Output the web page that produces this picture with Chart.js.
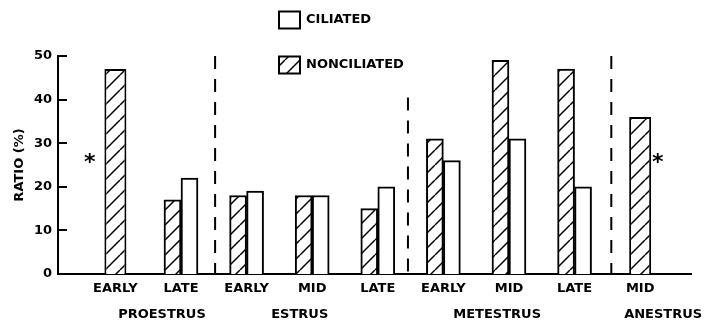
<!DOCTYPE html>
<html>
<head>
<meta charset="utf-8">
<script src="https://cdn.jsdelivr.net/npm/chart.js@4/dist/chart.umd.min.js"></script>
<style>
  html, body { margin: 0; padding: 0; background: #fff; }
  #wrap { width: 704px; height: 324px; }
</style>
</head>
<body>
<div id="wrap"><canvas id="c" width="704" height="324"></canvas></div>
<script>
// Stage labels under each bar group (ordered through the cycle)
const stageLabels = ['EARLY', 'LATE', 'EARLY', 'MID', 'LATE', 'EARLY', 'MID', 'LATE', 'MID'];
// Ratio (%) of ciliated and nonciliated cells; null = no ciliated value
const ciliated    = [null, 22, 19, 18, 20, 26, 31, 20, null];
const nonciliated = [47,   17, 18, 18, 15, 31, 49, 47, 36];
// Phases of the cycle, written under the stage labels
const phaseNames  = ['PROESTRUS', 'ESTRUS', 'METESTRUS', 'ANESTRUS'];
const seriesNames = ['CILIATED', 'NONCILIATED'];
const yTickValues = [0, 10, 20, 30, 40, 50];

// Layout (in axis units)
const phaseAnchors   = [0.71, 2.81, 5.82, 8.35];
const dividerAt      = [1.52, 4.46, 7.56];
const dividerTop     = [50, 40.5, 50];
const starOffsets    = { 0: -0.39, 8: 0.27 };
const starLevel      = 26.6;

const FONT = "'DejaVu Sans', sans-serif";
const canvas = document.getElementById('c');
const ctx = canvas.getContext('2d');

function makeHatch() {
  const s = 15;
  const c = document.createElement('canvas');
  c.width = s; c.height = s;
  const g = c.getContext('2d');
  g.fillStyle = '#fff';
  g.fillRect(0, 0, s, s);
  g.strokeStyle = '#000';
  g.lineWidth = 1.5;
  g.beginPath();
  for (const dx of [-s, 0, s]) { g.moveTo(dx, s); g.lineTo(dx + s, 0); }
  g.stroke();
  return ctx.createPattern(c, 'repeat');
}
const hatch = makeHatch();

// Groups with both values are paired; the others get one centred bar
const pairedNon = nonciliated.map((v, i) => ciliated[i] == null ? null : v);
const singleNon = nonciliated.map((v, i) => ciliated[i] == null ? v : null);

const decorations = {
  id: 'decorations',
  afterDatasetsDraw(chart) {
    const { ctx, scales: { x, y } } = chart;
    ctx.save();
    // inward y ticks
    ctx.strokeStyle = '#000';
    ctx.lineWidth = 2;
    ctx.setLineDash([]);
    y.ticks.forEach(t => {
      const py = Math.round(y.getPixelForValue(t.value)) + 0.0;
      ctx.beginPath();
      ctx.moveTo(x.left, py);
      ctx.lineTo(x.left + 9, py);
      ctx.stroke();
    });
    // dashed phase dividers
    ctx.setLineDash([13, 10]);
    dividerAt.forEach((v, k) => {
      const px = x.getPixelForValue(v);
      ctx.beginPath();
      ctx.moveTo(px, y.getPixelForValue(dividerTop[k]));
      ctx.lineTo(px, y.getPixelForValue(0));
      ctx.stroke();
    });
    ctx.setLineDash([]);
    // phase names
    ctx.fillStyle = '#000';
    ctx.font = 'bold 13px ' + FONT;
    ctx.textAlign = 'center';
    ctx.textBaseline = 'middle';
    phaseNames.forEach((n, k) => {
      ctx.fillText(n, x.getPixelForValue(phaseAnchors[k]), 315);
    });
    // asterisks where no ciliated value exists
    ctx.font = 'bold 22px ' + FONT;
    ctx.textBaseline = 'alphabetic';
    ciliated.forEach((v, i) => {
      if (v == null) {
        ctx.fillText('*', x.getPixelForValue(i + starOffsets[i]), y.getPixelForValue(starLevel) + 11);
      }
    });
    // legend
    const items = [
      { text: seriesNames[0], fill: '#fff', cy: 20 },
      { text: seriesNames[1], fill: hatch, cy: 65 }
    ];
    items.forEach(it => {
      ctx.fillStyle = it.fill;
      ctx.fillRect(279, it.cy - 8.5, 21, 17);
      ctx.strokeStyle = '#000';
      ctx.lineWidth = 2;
      ctx.strokeRect(279, it.cy - 8.5, 21, 17);
      ctx.fillStyle = '#000';
      ctx.font = 'bold 13px ' + FONT;
      ctx.textAlign = 'left';
      ctx.textBaseline = 'middle';
      ctx.fillText(it.text, 306, it.cy);
    });
    ctx.restore();
  }
};

new Chart(ctx, {
  type: 'bar',
  data: {
    labels: stageLabels.map((_, i) => i),
    datasets: [
      { label: seriesNames[1], data: pairedNon, backgroundColor: hatch, borderColor: '#000',
        borderWidth: 2, barThickness: 17 },
      { label: seriesNames[0], data: ciliated, backgroundColor: '#fff', borderColor: '#000',
        borderWidth: 2, barThickness: 17 },
      { label: seriesNames[1], data: singleNon, backgroundColor: hatch, borderColor: '#000',
        borderWidth: 2, grouped: false, maxBarThickness: 22, categoryPercentage: 0.5, barPercentage: 1 }
    ]
  },
  options: {
    responsive: false,
    animation: false,
    layout: { padding: { top: 56, right: 13, left: 0, bottom: 0 } },
    plugins: { legend: { display: false }, tooltip: { enabled: false } },
    scales: {
      x: {
        type: 'linear',
        min: -0.875,
        max: 8.775,
        offset: false,
        grid: { display: false, drawTicks: false },
        border: { display: true, color: '#000', width: 2 },
        afterBuildTicks: s => { s.ticks = stageLabels.map((_, i) => ({ value: i })); },
        ticks: {
          autoSkip: false, maxRotation: 0, padding: 7, color: '#000',
          font: { family: FONT, size: 13, weight: 'bold' },
          callback: v => stageLabels[v]
        },
        afterFit: s => { s.height = 50; }
      },
      y: {
        min: 0,
        max: 50,
        grid: { display: false, drawTicks: false },
        border: { display: true, color: '#000', width: 2 },
        afterBuildTicks: s => { s.ticks = yTickValues.map(v => ({ value: v })); },
        ticks: { padding: 6, color: '#000', font: { family: FONT, size: 13, weight: 'bold' } },
        title: {
          display: true, text: 'RATIO (%)', color: '#000',
          font: { family: FONT, size: 13, weight: 'bold' },
          padding: { top: 12, bottom: 0 }
        },
        afterFit: s => { s.width = 58; }
      }
    }
  },
  plugins: [decorations]
});
</script>
</body>
</html>
